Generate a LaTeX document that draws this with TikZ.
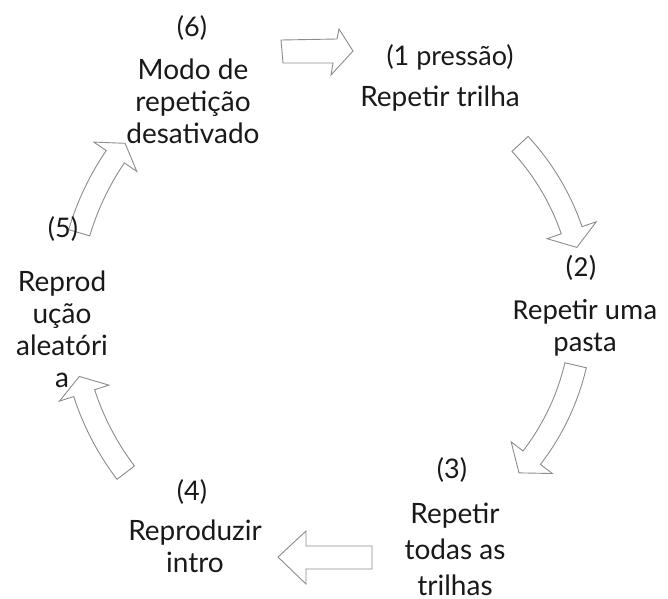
\documentclass[tikz,border=0pt]{standalone}
\usepackage{fontspec}
\setmainfont{Lato}
\newfontfamily\calibrifont{Carlito}
\usetikzlibrary{calc}
\tikzset{
  steplabel/.style = {align=center, inner sep=0pt, text=black!90,
    font=\fontsize{28}{32}\selectfont},% texto dos passos
  numlabel/.style = {steplabel, font=\fontsize{27}{30}\selectfont},% numero do passo
  folderlabel/.style = {steplabel,
    font=\calibrifont\fontsize{29}{32}\selectfont},% passo 2, outra fonte
  blockarrow/.style = {draw=black!45, fill=white, line width=0.9pt,
    line join=miter}% seta larga vazada
}
% seta curva em volta do centro: inicio, base da ponta, ponta, raio
\newcommand{\cyclearrow}[4]{%
  \draw[blockarrow] ($(ctr)+(#1:#4-11)$) arc[start angle=#1, end angle=#2, radius=#4-11]
    -- ($(ctr)+(#2:#4-26)$) -- ($(ctr)+(#3:#4)$) -- ($(ctr)+(#2:#4+26)$)
    -- ($(ctr)+(#2:#4+11)$) arc[start angle=#2, end angle=#1, radius=#4+11] -- cycle;}

\begin{document}
\begin{tikzpicture}[x=1pt, y=-1pt]
  \useasboundingbox (0,0) rectangle (668,598);
  \coordinate (ctr) at (340,310);

  % setas
  \draw[blockarrow] (281,40) -- (337,39) -- (339,29) -- (353,51)
    -- (331,75) -- (333,63) -- (283,63) -- cycle;
  \cyclearrow{-42.7}{-19}{-14.8}{245}
  \cyclearrow{13.2}{37.6}{42.3}{242}
  \draw[blockarrow] (372,546) -- (306,546) -- (306,531) -- (278,557)
    -- (306,584) -- (306,569) -- (372,569) -- cycle;
  \cyclearrow{142.8}{162}{165.7}{269}
  \cyclearrow{196.5}{214.3}{217.8}{272}

  % passos
  \node[numlabel, anchor=north] (n6) at (192,15) {(6)};
  \node[steplabel, anchor=north] (t6) at (193,59) {Modo de\\repetição\\desativado};
  \node[numlabel, anchor=north] (n1) at (450,44) {(1 pressão)};
  \node[steplabel, anchor=north] (t1) at (440,86) {Repetir trilha};
  \node[folderlabel, anchor=north] (n2) at (581,255) {(2)};
  \node[folderlabel, anchor=north] (t2) at (585,299) {Repetir uma\\pasta};
  \node[numlabel, anchor=north] (n3) at (452,457) {(3)};
  \node[steplabel, anchor=north, font=\fontsize{28}{36}\selectfont] (t3) at (455,503)
    {Repetir\\todas as\\trilhas};
  \node[numlabel, anchor=north] (n4) at (192,479) {(4)};
  \node[steplabel, anchor=north] (t4) at (195,520) {Reproduzir\\intro};
  \node[numlabel, anchor=north] (n5) at (63,216) {(5)};
  \node[steplabel, anchor=north] (t5) at (62,271) {Reprod\\ução\\aleatóri\\a};
\end{tikzpicture}
\end{document}
